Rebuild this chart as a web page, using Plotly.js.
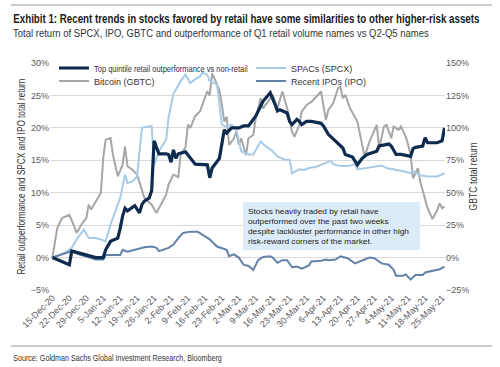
<!DOCTYPE html>
<html>
<head>
<meta charset="utf-8">
<script src="https://cdn.plot.ly/plotly-3.0.1.min.js"></script>
<style>html,body{margin:0;padding:0;background:#fff;}#chart{width:500px;height:367px;}</style>
</head>
<body>
<div id="chart"></div>
<script>
// ---- Data ----
const topDates = ['2020-12-15','2020-12-22','2020-12-23','2020-12-28','2020-12-30','2021-01-02','2021-01-05','2021-01-06','2021-01-08','2021-01-11','2021-01-12','2021-01-13','2021-01-14','2021-01-15','2021-01-18','2021-01-20','2021-01-21','2021-01-22','2021-01-24','2021-01-25','2021-01-26','2021-01-28','2021-01-31','2021-02-01','2021-02-02','2021-02-03','2021-02-04','2021-02-05','2021-02-08','2021-02-10','2021-02-12','2021-02-17','2021-02-18','2021-02-19','2021-02-22','2021-02-24','2021-02-25','2021-02-27','2021-03-02','2021-03-04','2021-03-06','2021-03-09','2021-03-11','2021-03-12','2021-03-15','2021-03-16','2021-03-17','2021-03-18','2021-03-19','2021-03-22','2021-03-23','2021-03-24','2021-03-26','2021-03-27','2021-03-28','2021-03-30','2021-04-01','2021-04-05','2021-04-06','2021-04-08','2021-04-12','2021-04-14','2021-04-15','2021-04-18','2021-04-20','2021-04-22','2021-04-24','2021-04-26','2021-04-28','2021-04-29','2021-04-30','2021-05-03','2021-05-04','2021-05-06','2021-05-08','2021-05-10','2021-05-12','2021-05-13','2021-05-14','2021-05-17','2021-05-18','2021-05-19','2021-05-23','2021-05-25','2021-05-26'];
const topVals = [0,-1.1,1.0,0.5,0.2,0.0,0.0,1.2,2.5,3.0,4.5,6.4,7.6,7.2,8.0,6.9,8.2,8.7,9.2,10.3,18.0,16.0,16.0,15.9,14.7,16.6,15.3,16.0,16.3,15.3,14.4,14.3,12.3,13.8,15.3,19.7,19.2,20.0,20.0,20.3,20.3,21.8,23.3,24.1,25.4,24.6,23.6,22.6,22.8,22.3,21.0,20.5,21.3,21.0,20.5,21.0,21.0,20.7,20.3,19.0,17.7,16.9,15.9,15.5,14.3,15.3,15.9,16.1,16.4,17.2,17.3,17.5,17.2,15.9,15.9,15.8,15.6,16.8,17.0,17.2,18.5,17.7,17.7,18.0,20.0];

const spacDates = ['2020-12-15','2020-12-20','2020-12-23','2020-12-25','2020-12-27','2020-12-28','2020-12-30','2021-01-02','2021-01-04','2021-01-06','2021-01-08','2021-01-10','2021-01-12','2021-01-14','2021-01-15','2021-01-17','2021-01-19','2021-01-20','2021-01-21','2021-01-25','2021-01-26','2021-01-28','2021-01-31','2021-02-01','2021-02-03','2021-02-06','2021-02-08','2021-02-10','2021-02-12','2021-02-14','2021-02-15','2021-02-17','2021-02-18','2021-02-21','2021-02-22','2021-02-23','2021-02-25','2021-02-27','2021-03-01','2021-03-03','2021-03-06','2021-03-08','2021-03-11','2021-03-13','2021-03-16','2021-03-18','2021-03-21','2021-03-23','2021-03-24','2021-03-27','2021-03-29','2021-03-31','2021-04-03','2021-04-06','2021-04-09','2021-04-10','2021-04-13','2021-04-16','2021-04-19','2021-04-20','2021-04-23','2021-04-26','2021-04-30','2021-05-02','2021-05-05','2021-05-09','2021-05-12','2021-05-13','2021-05-16','2021-05-19','2021-05-23','2021-05-26'];
const spacVals = [0,0.7,1.5,2.8,3.8,4.3,3.0,3.0,2.8,2.5,5.1,7.1,9.2,12.8,11.5,11.7,12.5,16.4,20.0,20.3,14.3,16.4,18.2,21.6,25.2,27.2,28.2,26.9,27.5,27.9,28.5,28.2,27.2,26.7,23.6,20.5,20.2,20.5,19.8,16.4,15.9,15.9,17.9,17.2,16.4,15.6,15.1,15.1,13.0,13.6,13.5,13.8,14.0,14.4,14.9,14.4,14.1,14.1,14.4,13.6,13.8,14.0,14.2,13.8,13.6,13.3,13.0,13.3,12.7,12.5,12.5,13.0];

const btcDates = ['2020-12-15','2020-12-17','2020-12-19','2020-12-22','2020-12-24','2020-12-25','2020-12-27','2020-12-29','2020-12-30','2020-12-31','2021-01-02','2021-01-04','2021-01-05','2021-01-06','2021-01-08','2021-01-09','2021-01-11','2021-01-13','2021-01-14','2021-01-15','2021-01-17','2021-01-19','2021-01-22','2021-01-25','2021-01-27','2021-01-29','2021-01-31','2021-02-01','2021-02-03','2021-02-05','2021-02-06','2021-02-08','2021-02-09','2021-02-10','2021-02-12','2021-02-14','2021-02-17','2021-02-18','2021-02-19','2021-02-20','2021-02-22','2021-02-23','2021-02-24','2021-02-25','2021-02-26','2021-02-28','2021-03-01','2021-03-02','2021-03-03','2021-03-05','2021-03-06','2021-03-08','2021-03-09','2021-03-11','2021-03-12','2021-03-14','2021-03-16','2021-03-17','2021-03-18','2021-03-20','2021-03-22','2021-03-24','2021-03-25','2021-03-27','2021-03-28','2021-03-30','2021-04-01','2021-04-03','2021-04-05','2021-04-07','2021-04-08','2021-04-10','2021-04-12','2021-04-13','2021-04-14','2021-04-15','2021-04-17','2021-04-20','2021-04-22','2021-04-23','2021-04-25','2021-04-27','2021-04-28','2021-04-29','2021-05-01','2021-05-02','2021-05-04','2021-05-05','2021-05-07','2021-05-08','2021-05-10','2021-05-11','2021-05-12','2021-05-13','2021-05-15','2021-05-16','2021-05-18','2021-05-19','2021-05-21','2021-05-23','2021-05-24','2021-05-25','2021-05-26'];
const btcVals = [0,22.8,30.5,33.0,24.0,19.0,25.4,30.5,40.8,37.0,43.4,49.8,76.8,90.9,92.2,79.3,62.7,71.6,85.8,70.4,67.8,63.9,46.0,40.8,34.4,42.0,48.5,56.2,63.9,62.0,79.3,85.0,102.5,100.0,109.0,112.8,128.2,125.0,142.0,138.0,129.0,118.0,104.8,108.7,86.8,92.0,97.0,87.0,92.0,79.0,92.0,94.5,107.4,122.8,115.0,120.0,125.4,120.0,115.0,128.0,115.0,97.0,93.0,102.0,112.5,117.7,120.0,124.0,128.0,106.0,113.8,119.0,130.5,131.8,122.8,125.4,115.0,104.8,88.0,77.8,89.4,98.4,102.3,84.3,101.0,102.3,92.0,101.0,98.4,101.0,93.2,86.8,79.0,61.1,68.9,58.5,45.7,38.0,29.8,36.7,41.9,38.0,39.3];

const ipoDates = ['2020-12-15','2020-12-23','2020-12-26','2020-12-30','2021-01-02','2021-01-05','2021-01-06','2021-01-12','2021-01-13','2021-01-15','2021-01-18','2021-01-22','2021-01-25','2021-01-27','2021-01-28','2021-01-30','2021-02-01','2021-02-03','2021-02-05','2021-02-07','2021-02-10','2021-02-13','2021-02-16','2021-02-18','2021-02-21','2021-02-25','2021-02-26','2021-02-28','2021-03-02','2021-03-04','2021-03-06','2021-03-08','2021-03-10','2021-03-12','2021-03-15','2021-03-16','2021-03-18','2021-03-20','2021-03-22','2021-03-24','2021-03-26','2021-03-28','2021-03-31','2021-04-01','2021-04-05','2021-04-07','2021-04-08','2021-04-11','2021-04-13','2021-04-16','2021-04-19','2021-04-22','2021-04-25','2021-04-27','2021-04-28','2021-04-30','2021-05-03','2021-05-05','2021-05-06','2021-05-09','2021-05-10','2021-05-11','2021-05-12','2021-05-14','2021-05-17','2021-05-18','2021-05-21','2021-05-24','2021-05-26'];
const ipoVals = [0,1.0,0.5,0.0,-0.3,-0.3,0.4,0.4,1.2,0.9,1.2,1.6,1.7,1.5,1.0,1.2,1.5,2.0,3.0,3.8,4.0,4.0,3.3,2.8,1.7,1.2,0.2,0.5,0.0,-1.1,-1.3,-1.9,-0.4,0.1,0.2,0.0,-0.8,-0.4,-0.4,-1.5,-1.4,-1.7,-1.2,-0.6,-0.5,-0.3,-0.4,-0.3,0.2,-0.1,-0.9,-0.4,0.0,-0.1,-0.4,-0.9,-1.1,-1.9,-2.8,-2.8,-2.6,-3.0,-3.4,-2.7,-2.7,-2.3,-2.0,-1.8,-1.4];

const seriesNames = ['Top quintile retail outperformance vs non-retail','SPACs (SPCX)','Bitcoin (GBTC)','Recent IPOs (IPO)'];
const titleText = 'Exhibit 1: Recent trends in stocks favored by retail have some similarities to other higher-risk assets';
const subtitleText = 'Total return of SPCX, IPO, GBTC and outperformance of Q1 retail volume names vs Q2-Q5 names';
const sourceText = 'Source: Goldman Sachs Global Investment Research, Bloomberg';
const noteLines = ['Stocks heavily traded by retail have','outperformed over the past two weeks','despite lackluster performance in other high','risk-reward corners of the market.'];
const leftTitle = 'Retail outperformance and SPCX and IPO total return';
const rightTitle = 'GBTC total return';

// ---- Styling ----
const SANS = 'Liberation Sans, Arial, sans-serif';
const C_TOP = '#0c2b4e', C_SPAC = '#a7cbe6', C_BTC = '#a6a6a6', C_IPO = '#6282aa';

const traces = [
  {x: btcDates, y: btcVals, name: seriesNames[2], type: 'scatter', mode: 'lines', yaxis: 'y',
   line: {color: C_BTC, width: 2}, legend: 'legend3'},
  {x: spacDates, y: spacVals, name: seriesNames[1], type: 'scatter', mode: 'lines', yaxis: 'y2',
   line: {color: C_SPAC, width: 2}, legend: 'legend2'},
  {x: ipoDates, y: ipoVals, name: seriesNames[3], type: 'scatter', mode: 'lines', yaxis: 'y2',
   line: {color: C_IPO, width: 2}, legend: 'legend4'},
  {x: topDates, y: topVals, name: seriesNames[0], type: 'scatter', mode: 'lines', yaxis: 'y2',
   line: {color: C_TOP, width: 3.2}, legend: 'legend'}
];

const L = 50, R = 445, T = 63, B = 290;
const px2x = p => (p - L) / (R - L);
const px2y = p => (B - p) / (B - T);
const legFont = {family: SANS, size: 9, color: '#333'};
function leg(xp, yp) {
  return {x: px2x(xp), y: px2y(yp), xanchor: 'left', yanchor: 'middle', bgcolor: 'rgba(0,0,0,0)',
          borderwidth: 0, font: legFont, orientation: 'v', itemwidth: 30};
}

const layout = {
  width: 500, height: 367,
  margin: {l: L, r: 500 - R, t: T, b: 367 - B},
  paper_bgcolor: '#fff', plot_bgcolor: '#fff',
  showlegend: true,
  legend: leg(54, 68),
  legend2: leg(251, 68),
  legend3: leg(54, 81),
  legend4: leg(251, 81),
  xaxis: {
    type: 'date',
    range: ['2020-12-14', '2021-05-26 05:00'],
    tick0: '2020-12-15', dtick: 7 * 86400000,
    tickformat: '%-d-%b-%y', tickangle: -45,
    tickfont: {family: SANS, size: 9, color: '#595959'},
    showgrid: false, showline: false, zeroline: false, ticks: ''
  },
  yaxis: {
    side: 'right', range: [-25, 150], dtick: 25, ticksuffix: '%',
    tickfont: {family: SANS, size: 9, color: '#595959'},
    showgrid: true, gridcolor: '#d9d9d9', gridwidth: 1, zeroline: false,
    title: {text: rightTitle, font: {family: SANS, size: 10, color: '#333'}, standoff: 1}
  },
  yaxis2: {
    overlaying: 'y', side: 'left', range: [-5, 30], dtick: 5, ticksuffix: '%',
    tickfont: {family: SANS, size: 9, color: '#595959'},
    showgrid: false, zeroline: false,
    title: {text: leftTitle, font: {family: SANS, size: 10, color: '#333'}, standoff: 3}
  },
  shapes: [
    {type: 'line', xref: 'paper', yref: 'paper', x0: px2x(11), x1: px2x(492), y0: px2y(5), y1: px2y(5),
     line: {color: '#9a9a9a', width: 1}},
    {type: 'line', xref: 'paper', yref: 'paper', x0: px2x(11), x1: px2x(492), y0: px2y(346), y1: px2y(346),
     line: {color: '#9a9a9a', width: 1}},
    {type: 'rect', xref: 'paper', yref: 'paper', x0: px2x(243), x1: px2x(420), y0: px2y(202), y1: px2y(250),
     fillcolor: '#dcebf8', line: {width: 0}, layer: 'above'}
  ],
  annotations: [
    {text: '<b>' + titleText + '</b>', xref: 'paper', yref: 'paper', x: px2x(11), y: px2y(19),
     xanchor: 'left', yanchor: 'middle', showarrow: false, font: {family: SANS, size: 12, color: '#1a1a1a'}},
    {text: subtitleText, xref: 'paper', yref: 'paper', x: px2x(11), y: px2y(33),
     xanchor: 'left', yanchor: 'middle', showarrow: false, font: {family: SANS, size: 11.5, color: '#333'}},
    {text: sourceText, xref: 'paper', yref: 'paper', x: px2x(11), y: px2y(357),
     xanchor: 'left', yanchor: 'middle', showarrow: false, font: {family: SANS, size: 9.5, color: '#333'}},
    {text: noteLines.join('<br>'), xref: 'paper', yref: 'paper', x: px2x(247), y: px2y(206),
     xanchor: 'left', yanchor: 'top', align: 'left', showarrow: false, borderpad: 0,
     font: {family: SANS, size: 7.6, color: '#222'}}
  ]
};

// Narrow-font emulation: compress a text element horizontally (in its own text direction).
function squeeze(el, targetW, anchor) {
  if (!el) return;
  const bb = el.getBBox();
  if (!bb.width) return;
  const s = targetW / bb.width;
  const x0 = anchor === 'middle' ? bb.x + bb.width / 2 : bb.x;
  const prev = el.getAttribute('transform') || '';
  el.setAttribute('transform', prev + ' translate(' + x0 + ',0) scale(' + s + ',1) translate(' + (-x0) + ',0)');
}

Plotly.newPlot('chart', traces, layout, {displayModeBar: false, staticPlot: true}).then(function (gd) {
  const ann = i => gd.querySelector('.annotation[data-index="' + i + '"] text.annotation-text');
  squeeze(ann(0), 467, 'left');
  squeeze(ann(1), 416, 'left');
  squeeze(ann(2), 209, 'left');
  squeeze(ann(3), 161, 'left');
  squeeze(gd.querySelector('text.y2title'), 196, 'middle');
  squeeze(gd.querySelector('text.ytitle'), 68, 'middle');
  const legTexts = Array.from(gd.querySelectorAll('text.legendtext'));
  let longest = null;
  legTexts.forEach(t => { if (!longest || t.getBBox().width > longest.getBBox().width) longest = t; });
  const sc = 154 / longest.getBBox().width;
  legTexts.forEach(t => squeeze(t, t.getBBox().width * sc, 'left'));
});
</script>
</body>
</html>
